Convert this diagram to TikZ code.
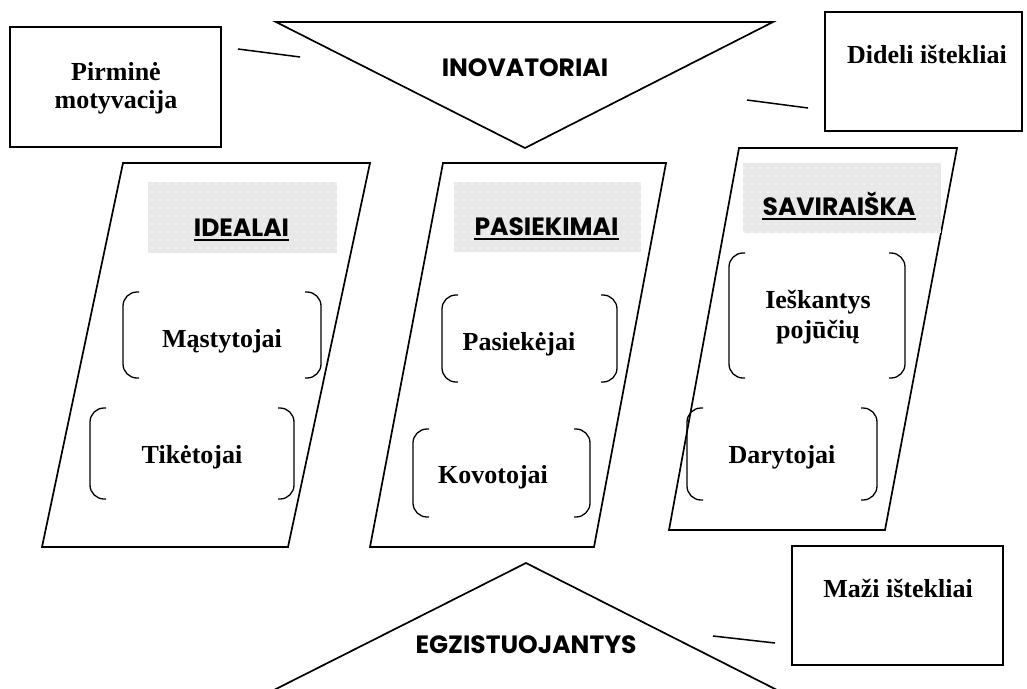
\documentclass[tikz,border=0pt]{standalone}
\usepackage{fontspec}
\setmainfont{Liberation Serif}
\newfontfamily\headfont{Poppins}
\usetikzlibrary{patterns.meta}

% a pair of round brackets around a label: x-left, y-top, x-right, y-bottom
\newcommand\bracketpair[4]{%
  \draw[bracket] (#1+16,#2) -- (#1,#2) -- (#1,#4) -- (#1+16,#4);
  \draw[bracket] (#3-16,#2) -- (#3,#2) -- (#3,#4) -- (#3-16,#4);}

% shaded heading strip with a dotted texture
\newcommand\headstrip[4]{%
  \fill[gray!18] (#1,#2) rectangle (#3,#4);
  \fill[pattern={Dots[radius=0.8pt,distance=8pt]}, pattern color=white]
    (#1,#2) rectangle (#3,#4);}

\begin{document}
\begin{tikzpicture}[x=1pt,y=-1pt,
  outline/.style={draw=black, line width=1.7pt, line join=miter},
  bracket/.style={draw=black, line width=1.3pt, rounded corners=14pt},
  link/.style={draw=black, line width=1.5pt},
  lbl/.style={font=\fontsize{26}{28}\selectfont\bfseries, inner sep=0pt, anchor=base},
  hdr/.style={font=\headfont\fontsize{25}{28}\selectfont\bfseries, inner sep=0pt, anchor=base},
  uline/.style={draw=black, line width=2pt}]

\useasboundingbox (0,0) rectangle (1027,688);

% ---- top triangle ----
\coordinate (tA) at (276,22);
\coordinate (tB) at (773,22);
\coordinate (tC) at (525,148);
\draw[outline] (tA) -- (tB) -- (tC) -- cycle;
\node[hdr] (inov) at (525,76) {INOVATORIAI};

% ---- bottom triangle (runs off the lower edge) ----
\coordinate (bC) at (526,563);
\coordinate (bA) at (270,692);
\coordinate (bB) at (781,692);
\draw[outline] (bA) -- (bC) -- (bB);
\node[hdr] (egz) at (526,653) {EGZISTUOJANTYS};

% ---- side boxes (two-line labels sit on the baseline of their last line) ----
\draw[outline] (10,27) rectangle (221,147);
\node[lbl, align=center] (pirm) at (116,108) {Pirminė\\motyvacija};

\draw[outline] (825,12) rectangle (1022,131);
\node[lbl] (did) at (927,63) {Dideli ištekliai};

\draw[outline] (792,546) rectangle (1003,665);
\node[lbl] (maz) at (898,597) {Maži ištekliai};

% ---- short connectors ----
\coordinate (l1a) at (238,49);  \coordinate (l1b) at (300,57);
\coordinate (l2a) at (747,100); \coordinate (l2b) at (808,108);
\coordinate (l3a) at (713,636); \coordinate (l3b) at (775,643);
\draw[link] (l1a) -- (l1b);
\draw[link] (l2a) -- (l2b);
\draw[link] (l3a) -- (l3b);

% ---- parallelograms ----
\draw[outline] (123,163) -- (370,163) -- (288,547) -- (42,547) -- cycle;
\draw[outline] (443,163) -- (666,163) -- (594,547) -- (370,547) -- cycle;
\draw[outline] (739,148) -- (957,148) -- (885,530) -- (669,530) -- cycle;

% ---- headings ----
\headstrip{148}{182}{337}{253}
\headstrip{454}{182}{641}{252}
\headstrip{743}{163}{941}{233}
\node[hdr] (ideal) at (241.5,236) {IDEALAI};
\node[hdr] (pasi) at (546.5,235) {PASIEKIMAI};
\node[hdr] (savi) at (839,215) {SAVIRAIŠKA};
\foreach \h in {ideal,pasi,savi}
  \draw[uline] ([yshift=-3.5pt]\h.base west) -- ([yshift=-3.5pt]\h.base east);

% ---- bracketed groups ----
\bracketpair{123}{292}{321}{378}
\node[lbl] (mast) at (222,347) {Mąstytojai};
\bracketpair{90}{408}{294}{499}
\node[lbl] (tike) at (192,463) {Tikėtojai};

\bracketpair{442}{295}{617}{382}
\node[lbl] (pasiek) at (519,350) {Pasiekėjai};
\bracketpair{413}{429}{590}{517}
\node[lbl] (kovo) at (493,483) {Kovotojai};

\bracketpair{729}{253}{905}{378}
\node[lbl, align=center, font=\fontsize{26}{30}\selectfont\bfseries] (iesk) at (818,338) {Ieškantys\\pojūčių};
\bracketpair{687}{408}{877}{500}
\node[lbl] (dary) at (782,463) {Darytojai};
\end{tikzpicture}
\end{document}
